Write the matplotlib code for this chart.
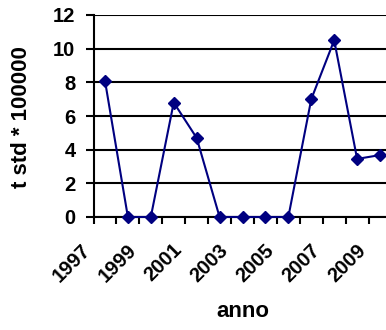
import numpy as np
import matplotlib.pyplot as plt
import matplotlib.transforms as mtransforms

# -----------------------------
# Data
# -----------------------------
years = [1997, 1998, 1999, 2000, 2001, 2002, 2003, 2004, 2005, 2006, 2007, 2008, 2009]
values = [8.1, 0.0, 0.0, 6.8, 4.7, 0.0, 0.0, 0.0, 0.0, 7.0, 10.5, 3.45, 3.68]
y_ticks = [0, 2, 4, 6, 8, 10, 12]

plt.rcParams['font.family'] = ['Liberation Sans', 'DejaVu Sans']
plt.rcParams['font.weight'] = 'bold'

W, H = 386, 330
fig = plt.figure(figsize=(W / 100, H / 100), dpi=100)
ax = fig.add_axes([93.5 / W, (H - 217) / H, 298 / W, 202 / H])

x = np.arange(len(years))
navy = '#000080'
ax.plot(x, values, color=navy, linewidth=1.5, marker='D', markersize=6.5,
        markerfacecolor=navy, markeredgecolor=navy, zorder=3, clip_on=False)

ax.set_xlim(-0.5, len(years) - 0.5)
ax.set_ylim(0, 12)

# horizontal grid lines
ax.set_yticks(y_ticks)
ax.set_yticklabels([str(t) for t in y_ticks], fontsize=14.5, fontweight='bold')
ax.yaxis.grid(True, color='black', linewidth=1.5)
ax.set_axisbelow(True)

# category boundaries as tick marks, labels every other year
ax.set_xticks(np.arange(-0.5, len(years), 1.0))
ax.set_xticklabels([])
ax.set_xticks(x[::2], minor=True)
ax.set_xticklabels([str(y) for y in years[::2]], minor=True, rotation=45,
                   ha='right', va='center', rotation_mode='anchor',
                   fontsize=14.5, fontweight='bold')
ax.tick_params(axis='x', which='minor', length=0, pad=21.6)
ax.tick_params(axis='x', which='major', length=5, width=1.5, direction='out')
ax.tick_params(axis='y', length=6, width=1.5, direction='out', pad=7)

# Excel puts the rotated labels a bit left of the category centre
shift = mtransforms.ScaledTranslation(-17.5 / 100, 0, fig.dpi_scale_trans)
for lbl in ax.get_xticklabels(minor=True):
    lbl.set_transform(lbl.get_transform() + shift)

for side in ['top', 'right']:
    ax.spines[side].set_visible(False)
for side in ['left', 'bottom']:
    ax.spines[side].set_linewidth(1.5)

ax.set_ylabel("t std * 100000", fontsize=16, fontweight='bold')
ax.yaxis.set_label_coords(-0.206, 0.495)
ax.set_xlabel("anno", fontsize=16, fontweight='bold')
ax.xaxis.set_label_coords(0.5, -0.414)

fig.savefig("out.png", dpi=100)
